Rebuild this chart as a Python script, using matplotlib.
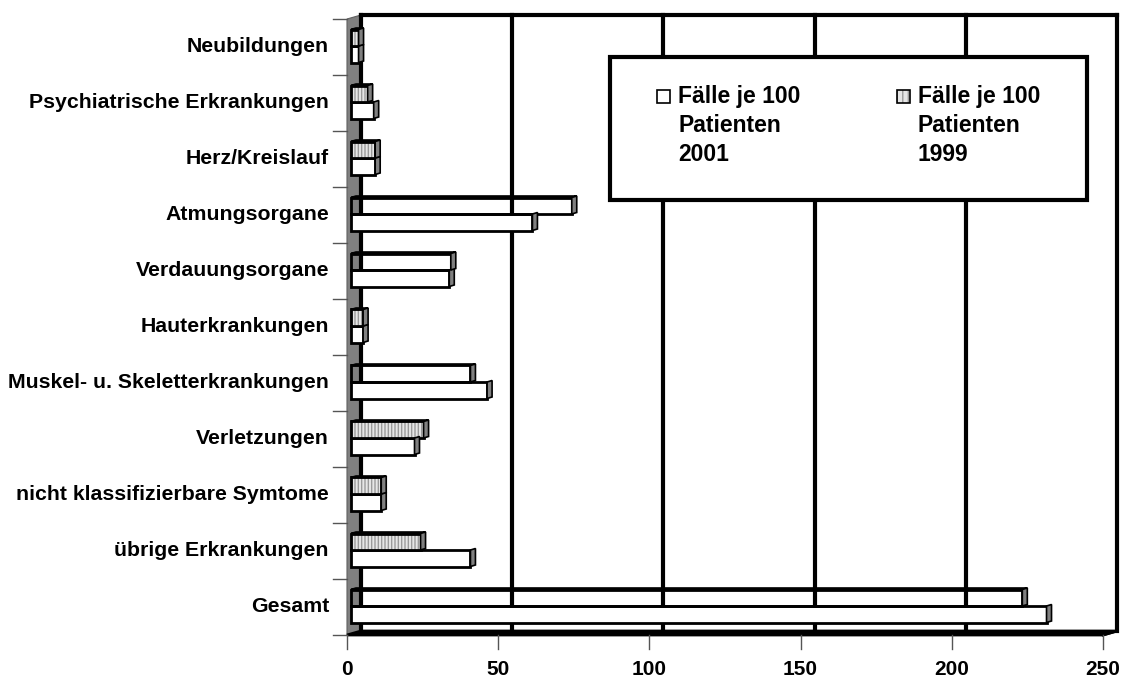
import matplotlib.pyplot as plt
from matplotlib.patches import Polygon, Rectangle
import numpy as np

plt.rcParams['font.family'] = ['Liberation Sans', 'DejaVu Sans']
plt.rcParams['font.weight'] = 'bold'
plt.rcParams['hatch.linewidth'] = 1.0

# Daten (Fälle je 100 Patienten)
categories = ['Neubildungen', 'Psychiatrische Erkrankungen', 'Herz/Kreislauf',
              'Atmungsorgane', 'Verdauungsorgane', 'Hauterkrankungen',
              'Muskel- u. Skeletterkrankungen', 'Verletzungen',
              'nicht klassifizierbare Symtome', 'übrige Erkrankungen', 'Gesamt']
faelle_2001 = [2.5, 7.5, 8, 60, 32.5, 4, 45, 21, 10, 39.5, 230]
faelle_1999 = [2.5, 5.5, 8, 73, 33, 4, 39.5, 24, 10, 23, 222]
xticks = [0, 50, 100, 150, 200, 250]
legend_lines = [['Fälle je 100', 'Patienten', '2001'],
                ['Fälle je 100', 'Patienten', '1999']]

# Excel hat die langen 1999er Balken ohne Muster gezeichnet (durchsichtig)
muster_1999 = [True, True, True, False, False, True, False, True, True, True, False]

W, H = 1125, 680
x0_px, x1_px = 347, 1103
top_px, bot_px = 19, 635
n = len(categories)
px_x = 250 / (x1_px - x0_px)
px_y = n / (bot_px - top_px)

# 3D Tiefe
dx, dy = 14 * px_x, -4 * px_y        # Rueckwand
fx, fy = 4 * px_x, -1 * px_y         # Vorderseite der Balken
sdx, sdy = 5 * px_x, -1.5 * px_y     # Balkentiefe
bar_h = 16.5 * px_y

GRAU = '#808080'

fig = plt.figure(figsize=(W / 100, H / 100), dpi=100, facecolor='white')
ax = fig.add_axes([x0_px / W, 1 - bot_px / H, (x1_px - x0_px) / W, (bot_px - top_px) / H])
ax.set_xlim(0, 250)
ax.set_ylim(n - 0.5, -0.5)
ax.axis('off')

y_lo, y_hi = n - 0.5, -0.5

# linke Wand
ax.add_patch(Polygon([(0, y_lo), (0, y_hi), (dx, y_hi + dy), (dx, y_lo + dy)],
                     closed=True, fc=GRAU, ec='#606060', lw=0.8, zorder=1, clip_on=False))
# Boden
ax.add_patch(Polygon([(0, y_lo), (250, y_lo), (250 + dx, y_lo + dy), (dx, y_lo + dy)],
                     closed=True, fc='black', ec='black', lw=2, zorder=2, clip_on=False))
# Rueckwand: Gitterlinien + Rahmen
for t in xticks:
    ax.plot([t + dx, t + dx], [y_lo + dy, y_hi + dy], color='black', lw=3,
            zorder=2, clip_on=False, solid_capstyle='projecting')
ax.plot([dx, 250 + dx], [y_hi + dy, y_hi + dy], color='black', lw=3,
        zorder=2, clip_on=False, solid_capstyle='projecting')
ax.plot([250, 250 + dx], [y_lo, y_lo + dy], color='black', lw=2, zorder=2, clip_on=False)

ypos = np.arange(n) + fy

# 2001 (unten) - weiss
ax.barh(ypos + bar_h / 2, faelle_2001, left=fx, height=bar_h, color='white',
        edgecolor='black', lw=2, zorder=4)
# 1999 (oben) - Muster
fill_1999 = ['#e6e6e6' if m else 'none' for m in muster_1999]
ax.barh(ypos - bar_h / 2, faelle_1999, left=fx, height=bar_h, color=fill_1999,
        edgecolor=['#9a9a9a' if m else 'none' for m in muster_1999],
        hatch='|||||', lw=0, zorder=5)
ax.barh(ypos - bar_h / 2, faelle_1999, left=fx, height=bar_h, fill=False,
        edgecolor='black', lw=2, zorder=6)

# Seiten- und Deckflaechen
for i in range(n):
    for v, yt, yb, top in [(faelle_2001[i], ypos[i], ypos[i] + bar_h, False),
                           (faelle_1999[i], ypos[i] - bar_h, ypos[i], True)]:
        xe = fx + v
        ax.add_patch(Polygon([(xe, yt), (xe, yb), (xe + sdx, yb + sdy), (xe + sdx, yt + sdy)],
                             closed=True, fc=GRAU, ec='black', lw=1.2, zorder=7))
        if top:
            ax.add_patch(Polygon([(fx, yt), (xe, yt), (xe + sdx, yt + sdy), (fx + sdx, yt + sdy)],
                                 closed=True, fc='white', ec='black', lw=1.2, zorder=6.5))

# Achsenstriche
for k in range(n + 1):
    ax.plot([-14 * px_x, 0], [k - 0.5, k - 0.5], color='#555555', lw=1, clip_on=False)
for t in xticks:
    ax.plot([t, t], [y_lo, y_lo + 14 * px_y], color='#555555', lw=1, clip_on=False)

# Beschriftungen
for i, cat in enumerate(categories):
    ax.text(-18 * px_x, i, cat, ha='right', va='center', fontsize=15.3, fontweight='bold')
for t in xticks:
    ax.text(t, y_lo + 40 * px_y, str(t), ha='center', va='baseline', fontsize=15,
            fontweight='bold')

# Legende
def fig_xy(x, y):
    return x / W, 1 - y / H

fig.add_artist(Rectangle(fig_xy(610, 200), 477 / W, 143 / H, transform=fig.transFigure,
                         fc='white', ec='black', lw=3, zorder=10))
for k, (mx, tx) in enumerate([(657, 678), (897, 918)]):
    if k == 0:
        fig.add_artist(Rectangle(fig_xy(mx, 103), 13 / W, 13 / H, transform=fig.transFigure,
                                 fc='white', ec='black', lw=1.2, zorder=11))
    else:
        fig.add_artist(Rectangle(fig_xy(mx, 103), 13 / W, 13 / H, transform=fig.transFigure,
                                 fc='#e6e6e6', ec='#9a9a9a', hatch='|||', lw=0, zorder=11))
        fig.add_artist(Rectangle(fig_xy(mx, 103), 13 / W, 13 / H, transform=fig.transFigure,
                                 fill=False, ec='black', lw=1.2, zorder=12))
    for j, line in enumerate(legend_lines[k]):
        fig.text(*fig_xy(tx, 103 + 29 * j), line, ha='left', va='baseline',
                 fontsize=16.5, fontweight='bold', zorder=12)

fig.savefig('out.png', dpi=100)
